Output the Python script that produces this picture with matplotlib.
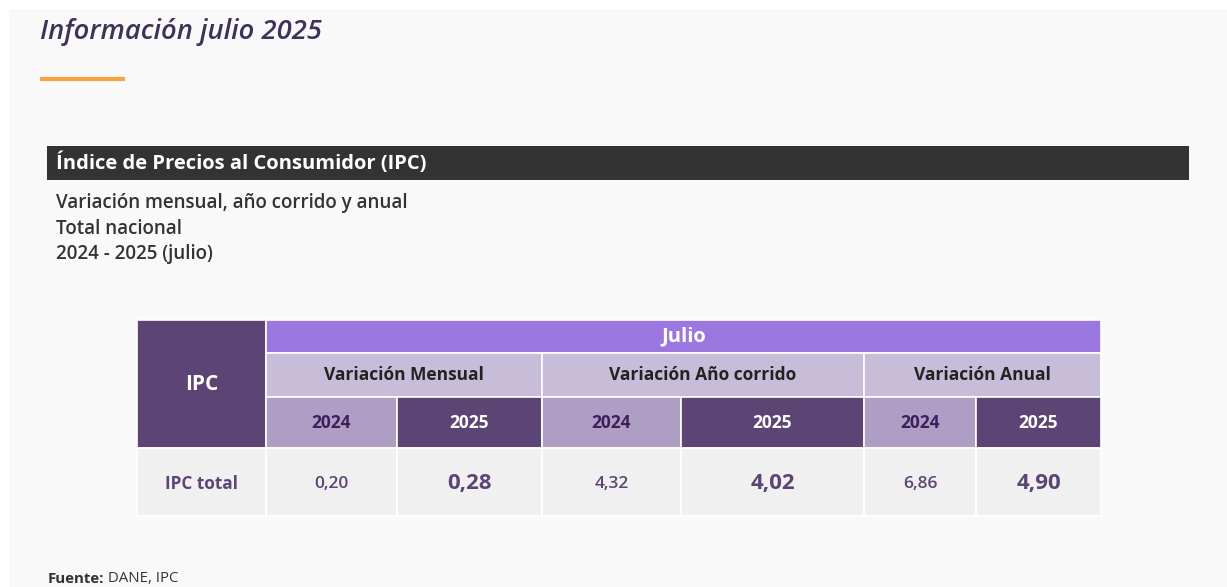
import matplotlib
matplotlib.use("Agg")
import matplotlib.pyplot as plt
from matplotlib.patches import Rectangle

plt.rcParams['font.family'] = ['Open Sans', 'DejaVu Sans']

# data
titulo = 'Información julio 2025'
barra = 'Índice de Precios al Consumidor (IPC)'
subtitulos = ['Variación mensual, año corrido y anual', 'Total nacional', '2024 - 2025 (julio)']
mes = 'Julio'
grupos = ['Variación Mensual', 'Variación Año corrido', 'Variación Anual']
anios = ['2024', '2025']
fila = 'IPC total'
valores = [[0.20, 0.28], [4.32, 4.02], [6.86, 4.90]]

# layout (pixels)
W, H = 1227, 587
col_x = [137, 266, 397, 542, 681, 864, 976, 1101]
row_y = [320, 353, 397, 448, 516]

c_dark = '#5c4574'
c_julio = '#9b78e0'
c_var = '#c7bdd8'
c_2024 = '#ae9ec4'
c_data = '#f0f0f0'

fig = plt.figure(figsize=(W / 100, H / 100), dpi=100)
ax = fig.add_axes([0, 0, 1, 1])
ax.set_xlim(0, W)
ax.set_ylim(H, 0)
ax.axis('off')

ax.add_patch(Rectangle((9, 9), W - 9, H - 9, color='#f9f9f9', lw=0))

ax.text(40, 32, titulo, fontsize=19.7, style='italic', weight='semibold', color='#3f3159',
        va='center', ha='left')
ax.plot([40, 125], [79, 79], color='#f7a440', lw=3, solid_capstyle='butt')

ax.add_patch(Rectangle((47, 146), 1142, 34, color='#333333', lw=0))
ax.text(56, 163, barra, fontsize=14.5, weight='bold', color='white', va='center')

for i, s in enumerate(subtitulos):
    ax.text(56, 203 + i * 25.5, s, fontsize=13.5, weight='semibold', color='#333333', va='center')


def cell(x0, x1, y0, y1, fc):
    ax.add_patch(Rectangle((x0, y0), x1 - x0, y1 - y0, facecolor=fc, edgecolor='white', lw=1.2))


# IPC header
cell(col_x[0], col_x[1], row_y[0], row_y[3], c_dark)
ax.text((col_x[0] + col_x[1]) / 2, (row_y[0] + row_y[3]) / 2, 'IPC', fontsize=15, weight='bold',
        color='white', ha='center', va='center')

# Julio header
cell(col_x[1], col_x[-1], row_y[0], row_y[1], c_julio)
ax.text((col_x[1] + col_x[-1]) / 2, (row_y[0] + row_y[1]) / 2, mes, fontsize=14.5, weight='bold',
        color='white', ha='center', va='center')

for g, nombre in enumerate(grupos):
    x0, x1 = col_x[1 + 2 * g], col_x[3 + 2 * g]
    cell(x0, x1, row_y[1], row_y[2], c_var)
    ax.text((x0 + x1) / 2, (row_y[1] + row_y[2]) / 2, nombre, fontsize=12.5, weight='bold',
            color='#222222', ha='center', va='center')
    for k, a in enumerate(anios):
        xa, xb = col_x[1 + 2 * g + k], col_x[2 + 2 * g + k]
        cell(xa, xb, row_y[2], row_y[3], c_2024 if k == 0 else c_dark)
        ax.text((xa + xb) / 2, (row_y[2] + row_y[3]) / 2 + 1, a, fontsize=12.5, weight='bold',
                color='#3d1f5e' if k == 0 else 'white', ha='center', va='center')
        cell(xa, xb, row_y[3], row_y[4], c_data)
        txt = f'{valores[g][k]:.2f}'.replace('.', ',')
        ax.text((xa + xb) / 2, (row_y[3] + row_y[4]) / 2 + 2, txt,
                fontsize=12.5 if k == 0 else 16, weight='semibold' if k == 0 else 'bold',
                color=c_dark, ha='center', va='center')

cell(col_x[0], col_x[1], row_y[3], row_y[4], c_data)
ax.text((col_x[0] + col_x[1]) / 2, (row_y[3] + row_y[4]) / 2 + 2, fila, fontsize=12.3, weight='bold',
        color=c_dark, ha='center', va='center')

t = ax.text(48, 579, 'Fuente:', fontsize=10.8, weight='bold', color='#333333', va='center')
ax.annotate(' DANE, IPC', xycoords=t, xy=(1, 0.5), va='center', fontsize=10.8, color='#333333')

fig.savefig('out.png', dpi=100)
